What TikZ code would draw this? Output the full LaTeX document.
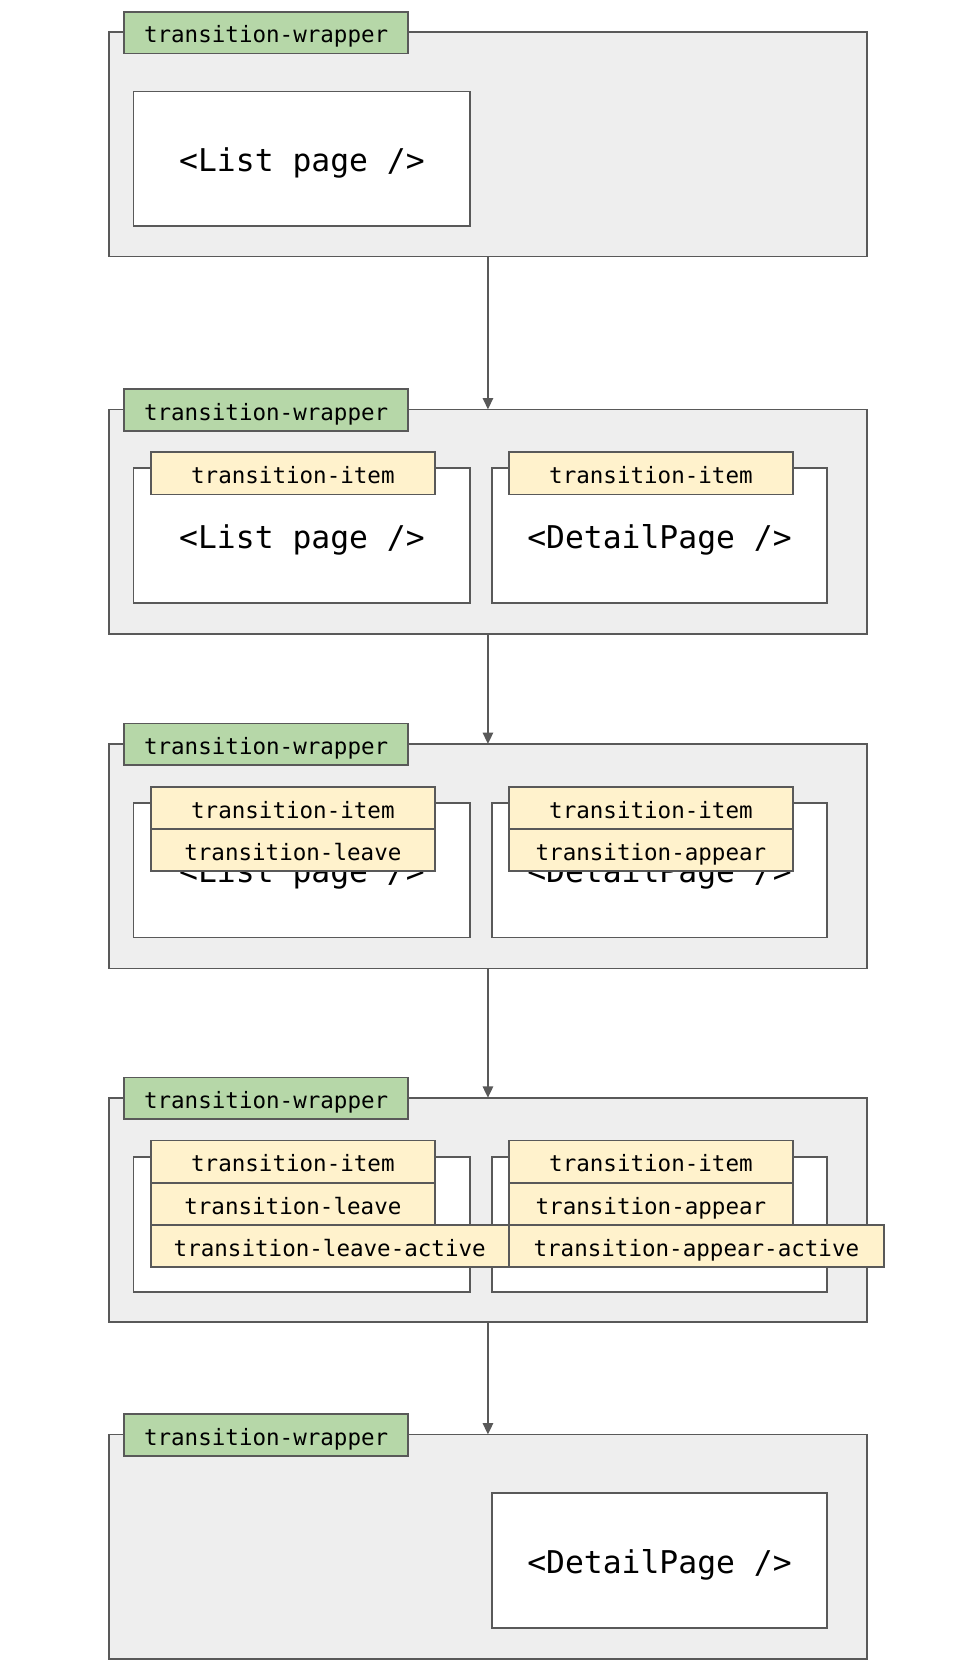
\documentclass[tikz,border=0pt]{standalone}
\usepackage{fontspec}
\setmonofont{DejaVu Sans Mono}
\usetikzlibrary{arrows.meta}
\definecolor{wrapfill}{HTML}{EEEEEE}
\definecolor{linegray}{HTML}{595959}
\definecolor{greenfill}{HTML}{B6D7A8}
\definecolor{yellowfill}{HTML}{FFF2CC}
\begin{document}
\begin{tikzpicture}[x=0.02cm,y=-0.02cm,
  every node/.style={inner sep=0pt, outer sep=0pt},
  wrapper/.style={draw=linegray, fill=wrapfill, line width=0.9pt,
    minimum width=709*0.02cm, minimum height=210*0.02cm},
  smallfont/.style={font=\ttfamily\fontsize{12}{14}\selectfont, text height=12pt, text depth=1pt},
  wtag/.style={draw=linegray, fill=greenfill, line width=0.9pt, smallfont,
    minimum width=266*0.02cm, minimum height=39*0.02cm},
  page/.style={draw=linegray, fill=white, line width=0.9pt,
    minimum height=126*0.02cm, font=\ttfamily\fontsize{16.7}{20}\selectfont,
    text height=16.4pt, text depth=2.8pt},
  ytag/.style={draw=linegray, fill=yellowfill, line width=0.9pt, smallfont,
    minimum height=39.5*0.02cm},
  flow/.style={draw=linegray, line width=0.9pt, -{Triangle[length=6pt,width=5.5pt]}}]
\useasboundingbox (0,0) rectangle (907,1568);

% Panel 1
\node[wrapper] (w1) at (456.5,135) {};
\node[page, minimum width=315*0.02cm] (p1l) at (282.5,148.5) {<List page />};
\node[wtag] (t1) at (249,30.5) {transition-wrapper};

% Panel 2
\node[wrapper] (w2) at (456.5,488) {};
\node[page, minimum width=315*0.02cm] (p2l) at (282.5,501) {<List page />};
\node[page, minimum width=314*0.02cm] (p2r) at (617,501) {<DetailPage />};
\node[ytag, minimum width=266*0.02cm] (i2l) at (274,442.75) {transition-item};
\node[ytag, minimum width=266*0.02cm] (i2r) at (609,442.75) {transition-item};
\node[wtag] (t2) at (249,383.5) {transition-wrapper};

% Panel 3
\node[wrapper] (w3) at (456.5,801) {};
\node[page, minimum width=315*0.02cm] (p3l) at (282.5,814) {<List page />};
\node[page, minimum width=314*0.02cm] (p3r) at (617,814) {<DetailPage />};
\node[ytag, minimum width=266*0.02cm] (i3l) at (274,755.75) {transition-item};
\node[ytag, minimum width=266*0.02cm] (i3r) at (609,755.75) {transition-item};
\node[ytag, minimum width=266*0.02cm] (l3l) at (274,795.25) {transition-leave};
\node[ytag, minimum width=266*0.02cm] (a3r) at (609,795.25) {transition-appear};
\node[wtag] (t3) at (249,696.5) {transition-wrapper};

% Panel 4
\node[wrapper] (w4) at (456.5,1132) {};
\node[page, minimum width=315*0.02cm] (p4l) at (282.5,1145.5) {};
\node[page, minimum width=314*0.02cm] (p4r) at (617,1145.5) {};
\node[ytag, minimum width=266*0.02cm] (i4l) at (274,1086.75) {transition-item};
\node[ytag, minimum width=266*0.02cm] (i4r) at (609,1086.75) {transition-item};
\node[ytag, minimum width=266*0.02cm] (l4l) at (274,1126.25) {transition-leave};
\node[ytag, minimum width=266*0.02cm] (a4r) at (609,1126.25) {transition-appear};
\node[ytag, minimum width=335*0.02cm] (la4l) at (308.5,1165.75) {transition-leave-active};
\node[ytag, minimum width=351*0.02cm] (aa4r) at (651.5,1165.75) {transition-appear-active};
\node[wtag] (t4) at (249,1027.5) {transition-wrapper};

% Panel 5
\node[wrapper] (w5) at (456.5,1447) {};
\node[page, minimum width=314*0.02cm] (p5r) at (617,1460) {<DetailPage />};
\node[wtag] (t5) at (249,1342.5) {transition-wrapper};

% Connectors
\draw[flow] (w1.south) -- (w2.north);
\draw[flow] (w2.south) -- (w3.north);
\draw[flow] (w3.south) -- (w4.north);
\draw[flow] (w4.south) -- (w5.north);
\end{tikzpicture}
\end{document}
